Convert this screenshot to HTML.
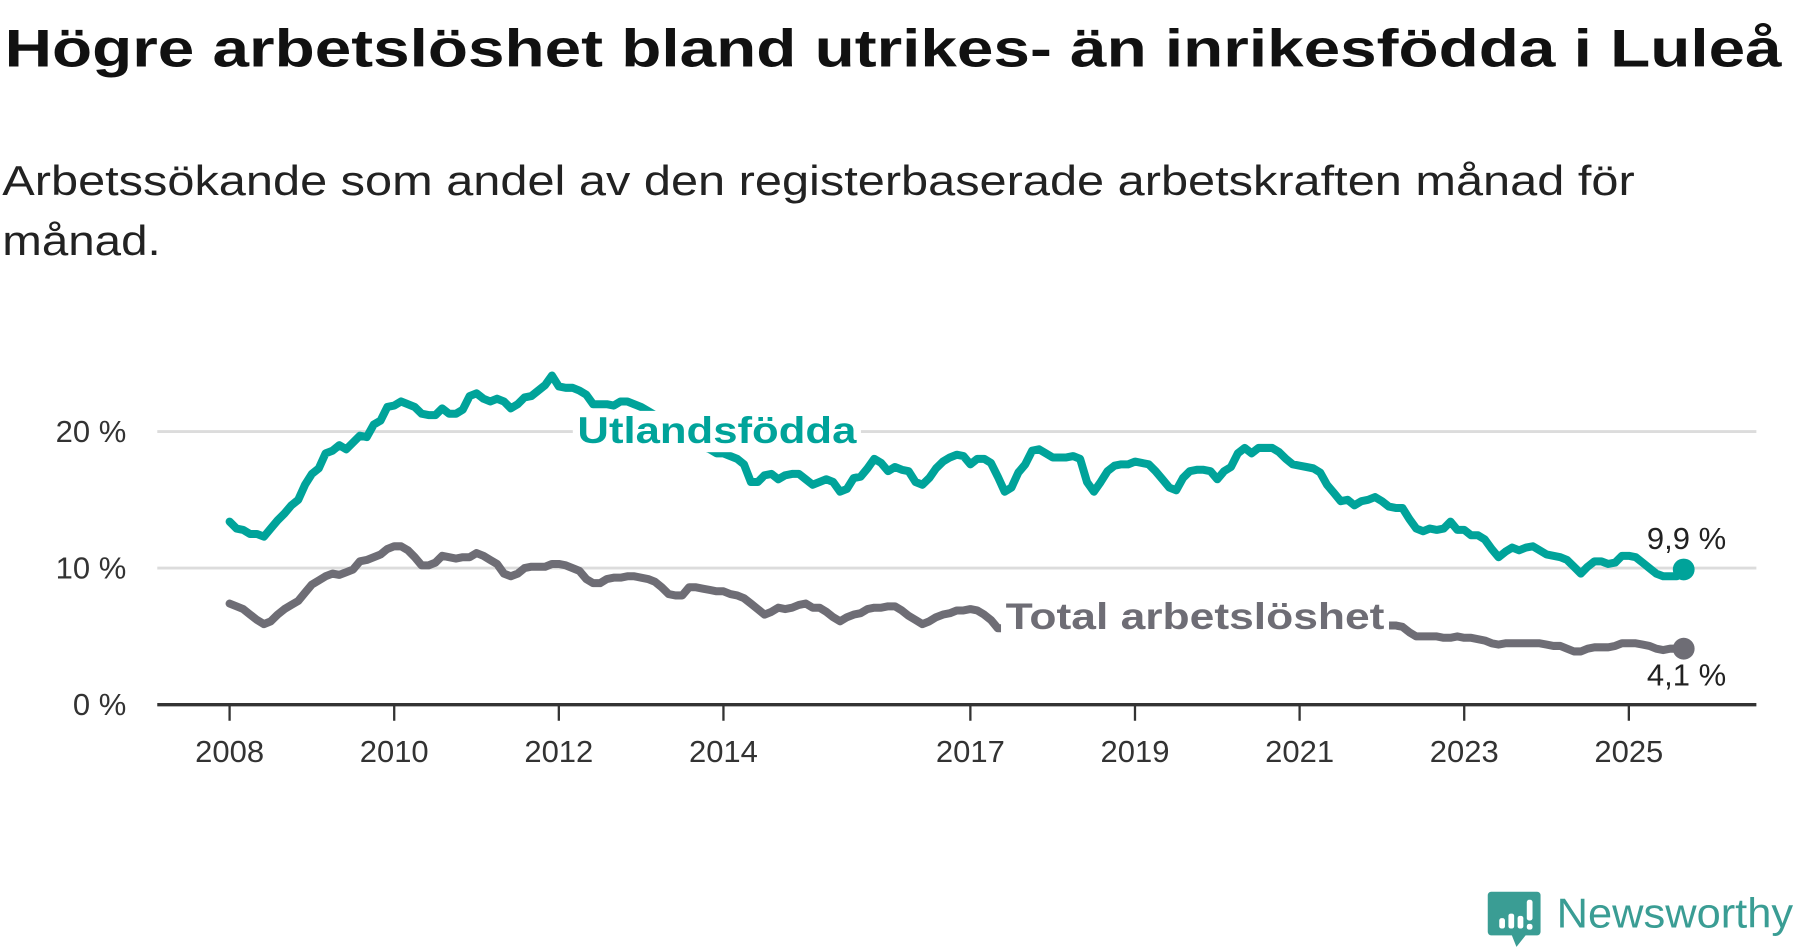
<!DOCTYPE html>
<html><head><meta charset="utf-8">
<style>
html,body{margin:0;padding:0;background:#fff;width:1800px;height:948px;overflow:hidden}
svg{display:block}
text{font-family:"Liberation Sans",sans-serif}
</style></head>
<body>
<svg id="chart" width="1800" height="948" viewBox="0 0 1568 826" preserveAspectRatio="none" xmlns="http://www.w3.org/2000/svg">
<text x="4" y="58" font-size="46" font-weight="bold" fill="#111" textLength="1548" lengthAdjust="spacingAndGlyphs">Högre arbetslöshet bland utrikes- än inrikesfödda i Luleå</text>
<text x="2" y="170" font-size="36" fill="#222" textLength="1422" lengthAdjust="spacingAndGlyphs">Arbetssökande som andel av den registerbaserade arbetskraften månad för</text>
<text x="2" y="222" font-size="36" fill="#222" textLength="138" lengthAdjust="spacingAndGlyphs">månad.</text>
<g id="grid"></g>
<g id="series"></g>
<g id="labels"></g>
<g>
  <path d="M1299 777 h40 a3 3 0 0 1 3 3 v32 a3 3 0 0 1 -3 3 h-10 l-8 10 l-4 -10 h-18 a3 3 0 0 1 -3 -3 v-32 a3 3 0 0 1 3 -3z" fill="#3a9d94"/>
  <rect x="1306" y="800" width="5" height="9" rx="2" fill="#fff"/>
  <rect x="1314" y="796" width="5" height="13" rx="2" fill="#fff"/>
  <rect x="1322" y="798" width="5" height="11" rx="2" fill="#fff"/>
  <rect x="1330" y="784" width="5" height="18" rx="2" fill="#fff"/>
  <rect x="1330" y="805" width="5" height="5" rx="2" fill="#fff"/>
  <text x="1356" y="808" font-size="36" fill="#3a9d94" textLength="206" lengthAdjust="spacingAndGlyphs">Newsworthy</text>
</g>
</svg>
<script>
const yTicks=[0,10,20];
const yTickLabels=["0 %","10 %","20 %"];
const xTickYears=[2008,2010,2012,2014,2017,2019,2021,2023,2025];
const startYear=2008;
const utlandsfodda=[
13.4,12.9,12.8,12.5,12.5,12.3,12.9,13.5,14.0,14.6,15.0,16.1,
16.9,17.3,18.4,18.6,19.0,18.7,19.2,19.7,19.6,20.5,20.8,21.8,
21.9,22.2,22.0,21.8,21.3,21.2,21.2,21.7,21.3,21.3,21.6,22.6,
22.8,22.4,22.2,22.4,22.2,21.7,22.0,22.5,22.6,23.0,23.4,24.1,
23.3,23.2,23.2,23.0,22.7,22.0,22.0,22.0,21.9,22.2,22.2,22.0,
21.8,21.5,21.2,21.0,20.6,20.2,19.8,19.5,19.2,18.9,18.7,18.4,
18.4,18.2,18.0,17.6,16.3,16.3,16.8,16.9,16.5,16.8,16.9,16.9,
16.5,16.1,16.3,16.5,16.3,15.6,15.8,16.6,16.7,17.3,18.0,17.7,
17.1,17.4,17.2,17.1,16.3,16.1,16.6,17.3,17.8,18.1,18.3,18.2,
17.6,18.0,18.0,17.7,16.7,15.6,15.9,17.0,17.6,18.6,18.7,18.4,
18.1,18.1,18.1,18.2,18.0,16.3,15.6,16.3,17.1,17.5,17.6,17.6,
17.8,17.7,17.6,17.1,16.5,15.9,15.7,16.6,17.1,17.2,17.2,17.1,
16.5,17.1,17.4,18.4,18.8,18.4,18.8,18.8,18.8,18.5,18.0,17.6,
17.5,17.4,17.3,17.0,16.1,15.5,14.9,15.0,14.6,14.9,15.0,15.2,
14.9,14.5,14.4,14.4,13.6,12.9,12.7,12.9,12.8,12.9,13.4,12.8,
12.8,12.4,12.4,12.1,11.4,10.8,11.2,11.5,11.3,11.5,11.6,11.3,
11.0,10.9,10.8,10.6,10.1,9.6,10.1,10.5,10.5,10.3,10.4,10.9,
10.9,10.8,10.4,10.0,9.6,9.4,9.4,9.4,9.9];
const total=[
7.4,7.2,7.0,6.6,6.2,5.9,6.1,6.6,7.0,7.3,7.6,8.2,
8.8,9.1,9.4,9.6,9.5,9.7,9.9,10.5,10.6,10.8,11.0,11.4,
11.6,11.6,11.3,10.8,10.2,10.2,10.4,10.9,10.8,10.7,10.8,10.8,
11.1,10.9,10.6,10.3,9.6,9.4,9.6,10.0,10.1,10.1,10.1,10.3,
10.3,10.2,10.0,9.8,9.2,8.9,8.9,9.2,9.3,9.3,9.4,9.4,
9.3,9.2,9.0,8.6,8.1,8.0,8.0,8.6,8.6,8.5,8.4,8.3,
8.3,8.1,8.0,7.8,7.4,7.0,6.6,6.8,7.1,7.0,7.1,7.3,
7.4,7.1,7.1,6.8,6.4,6.1,6.4,6.6,6.7,7.0,7.1,7.1,
7.2,7.2,6.9,6.5,6.2,5.9,6.1,6.4,6.6,6.7,6.9,6.9,
7.0,6.9,6.6,6.2,5.6,5.6,5.5,5.6,5.7,5.8,5.8,5.9,
5.9,5.8,5.8,5.7,5.8,5.9,5.8,5.7,5.7,5.6,5.6,5.6,
5.7,5.7,5.8,5.8,5.9,6.0,6.0,6.1,6.1,6.2,6.2,6.3,
6.5,6.7,7.0,7.2,7.3,7.2,7.1,7.0,6.9,6.9,6.9,6.8,
6.8,6.7,6.6,6.4,6.3,6.2,6.1,6.0,6.0,6.0,5.9,5.9,
5.8,5.8,5.8,5.7,5.3,5.0,5.0,5.0,5.0,4.9,4.9,5.0,
4.9,4.9,4.8,4.7,4.5,4.4,4.5,4.5,4.5,4.5,4.5,4.5,
4.4,4.3,4.3,4.1,3.9,3.9,4.1,4.2,4.2,4.2,4.3,4.5,
4.5,4.5,4.4,4.3,4.1,4.0,4.1,4.1,4.1];

const NS="http://www.w3.org/2000/svg";
const X0=200, PXYEAR=71.7, Y0=614, PXPCT=11.9;
function xScale(monthIndex){return X0+monthIndex*PXYEAR/12;}
function xYear(y){return X0+(y-startYear)*PXYEAR;}
function yScale(v){return Y0-v*PXPCT;}
function mk(tag,attrs,parent){const e=document.createElementNS(NS,tag);for(const k in attrs)e.setAttribute(k,attrs[k]);parent.appendChild(e);return e;}
const grid=document.getElementById('grid'), series=document.getElementById('series'), labels=document.getElementById('labels');

yTicks.forEach((t,i)=>{
  if(t!==0){const l=mk('line',{x1:137,x2:1530,y1:yScale(t),y2:yScale(t),stroke:'#dcdcdc','stroke-width':2.5},grid);
  
  }
  const tx=mk('text',{x:110,y:yScale(t)+9,'text-anchor':'end','font-size':27,fill:'#333'},grid);
  tx.textContent=yTickLabels[i];
  
  
});
const axis=mk('line',{x1:137,x2:1530,y1:Y0,y2:Y0,stroke:'#333','stroke-width':3},grid);


xTickYears.forEach(yr=>{
  const x=xYear(yr);
  const tk=mk('line',{x1:x,x2:x,y1:Y0,y2:Y0+14,stroke:'#333','stroke-width':2},grid);
  
  
  const tx=mk('text',{x:x,y:664,'text-anchor':'middle','font-size':27,fill:'#333'},grid);
  tx.textContent=String(yr);
  
  
});

function drawLine(data,color,name){
  const d=data.map((v,i)=>(i?'L':'M')+xScale(i).toFixed(1)+' '+yScale(v).toFixed(1)).join(' ');
  const p=mk('path',{d:d,fill:'none',stroke:color,'stroke-width':7,'stroke-linejoin':'round','stroke-linecap':'round'},series);
  
  
  const n=data.length-1;
  const c=mk('circle',{cx:xScale(n),cy:yScale(data[n]),r:9.5,fill:color},series);
  
  
}
drawLine(total,'#6e6d75','total');
drawLine(utlandsfodda,'#00a39a','utlandsfodda');

function seriesLabel(txt,x,y,w,color,name){
  const r=mk('rect',{x:x-4,y:y-28,width:w+8,height:36,fill:'#fff'},labels);
  
  
  const t=mk('text',{x:x,y:y,'font-size':32,'font-weight':'bold',fill:color,textLength:w,lengthAdjust:'spacingAndGlyphs'},labels);
  t.textContent=txt;
  
  
}
seriesLabel('Utlandsfödda',503,386,243,'#00a39a','utlandsfodda');
seriesLabel('Total arbetslöshet',876,548,330,'#6e6d75','total');

const nU=utlandsfodda.length-1, nT=total.length-1;
const e1=mk('text',{x:xScale(nU)+37,y:yScale(utlandsfodda[nU])-18,'text-anchor':'end','font-size':27,fill:'#222'},labels);
e1.textContent=utlandsfodda[nU].toFixed(1).replace('.',',')+' %';


const e2=mk('text',{x:xScale(nT)+37,y:yScale(total[nT])+32,'text-anchor':'end','font-size':27,fill:'#222'},labels);
e2.textContent=total[nT].toFixed(1).replace('.',',')+' %';


</script>
</body></html>
